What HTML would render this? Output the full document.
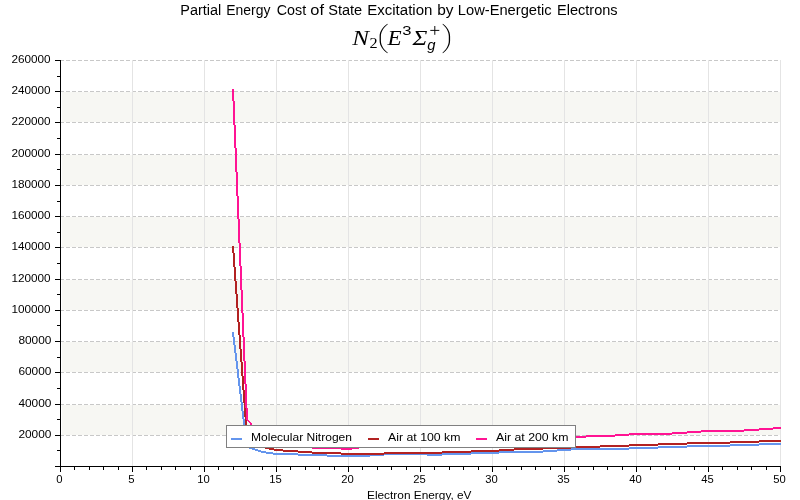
<!DOCTYPE html>
<html><head><meta charset="utf-8"><title>Partial Energy Cost of State Excitation by Low-Energetic Electrons</title>
<style>html,body{margin:0;padding:0;background:#fff;overflow:hidden}svg{display:block;will-change:transform}text{font-family:"Liberation Sans",sans-serif;fill:#000}.se{font-family:"Liberation Serif",serif}</style></head><body>
<svg width="800" height="500" viewBox="0 0 800 500">
<rect width="800" height="500" fill="#fff"/>
<g fill="#f7f7f3" shape-rendering="crispEdges">
<rect x="62" y="405" width="718" height="30"/>
<rect x="62" y="342" width="718" height="30"/>
<rect x="62" y="280" width="718" height="30"/>
<rect x="62" y="217" width="718" height="30"/>
<rect x="62" y="155" width="718" height="30"/>
<rect x="62" y="92" width="718" height="30"/>
</g>
<g stroke="#c8c8c8" stroke-width="1" stroke-dasharray="4 2" shape-rendering="crispEdges" clip-path="url(#cv)">
<line x1="60" y1="435.5" x2="780" y2="435.5"/>
<line x1="60" y1="404.5" x2="780" y2="404.5"/>
<line x1="60" y1="372.5" x2="780" y2="372.5"/>
<line x1="60" y1="341.5" x2="780" y2="341.5"/>
<line x1="60" y1="310.5" x2="780" y2="310.5"/>
<line x1="60" y1="279.5" x2="780" y2="279.5"/>
<line x1="60" y1="247.5" x2="780" y2="247.5"/>
<line x1="60" y1="216.5" x2="780" y2="216.5"/>
<line x1="60" y1="185.5" x2="780" y2="185.5"/>
<line x1="60" y1="154.5" x2="780" y2="154.5"/>
<line x1="60" y1="122.5" x2="780" y2="122.5"/>
<line x1="60" y1="91.5" x2="780" y2="91.5"/>
<line x1="60" y1="60.5" x2="780" y2="60.5"/>
</g>
<defs><clipPath id="cv"><rect x="61" y="59" width="720" height="408"/></clipPath></defs>
<g fill="#e4e4e4" shape-rendering="crispEdges">
<rect x="132" y="60" width="1" height="406"/>
<rect x="204" y="60" width="1" height="406"/>
<rect x="276" y="60" width="1" height="406"/>
<rect x="348" y="60" width="1" height="406"/>
<rect x="420" y="60" width="1" height="406"/>
<rect x="492" y="60" width="1" height="406"/>
<rect x="564" y="60" width="1" height="406"/>
<rect x="636" y="60" width="1" height="406"/>
<rect x="708" y="60" width="1" height="406"/>
<rect x="780" y="60" width="1" height="406"/>
</g>
<g shape-rendering="crispEdges" clip-path="url(#cv)">
<path fill="#6495ed" d="M232 332h2v5h-2zM233 337h2v8h-2zM234 345h2v8h-2zM235 353h2v8h-2zM236 361h2v8h-2zM237 369h2v9h-2zM238 378h2v8h-2zM239 386h2v8h-2zM240 394h2v8h-2zM241 402h2v9h-2zM242 411h2v8h-2zM243 419h2v8h-2zM244 427h2v8h-2zM245 435h2v8h-2zM246 443h2v3h-2zM246 446h3v1h-3zM246 447h6v1h-6zM249 448h6v1h-6zM252 449h6v1h-6zM255 450h6v1h-6zM258 451h8v1h-8zM261 452h12v1h-12zM266 453h32v1h-32zM273 454h54v1h-54zM298 455h86v1h-86zM327 456h43v1h-43zM370 454h101v1h-101zM384 453h43v1h-43zM427 455h15v1h-15zM442 453h57v1h-57zM471 452h72v1h-72zM499 451h58v1h-58zM543 450h28v1h-28zM557 449h72v1h-72zM571 448h87v1h-87zM629 447h58v1h-58zM658 446h72v1h-72zM687 445h72v1h-72zM730 444h51v1h-51zM759 443h22v1h-22z"/>
<path fill="#b22222" d="M232 246h2v7h-2zM233 253h2v14h-2zM234 267h2v14h-2zM235 281h2v13h-2zM236 294h2v14h-2zM237 308h2v14h-2zM238 322h2v13h-2zM239 335h2v14h-2zM240 349h2v13h-2zM241 362h2v14h-2zM242 376h2v14h-2zM243 390h2v13h-2zM244 403h2v14h-2zM245 417h2v14h-2zM246 431h2v6h-2zM246 437h4v1h-4zM248 438h3v1h-3zM250 439h3v1h-3zM251 440h3v1h-3zM253 441h3v1h-3zM254 442h3v1h-3zM256 443h3v1h-3zM257 444h3v1h-3zM259 445h3v1h-3zM260 446h5v1h-5zM262 447h7v1h-7zM265 448h9v1h-9zM269 449h14v1h-14zM274 450h24v1h-24zM283 451h29v1h-29zM298 452h43v1h-43zM312 453h130v1h-130zM341 454h43v1h-43zM384 452h87v1h-87zM442 451h57v1h-57zM471 450h43v1h-43zM499 449h44v1h-44zM514 448h57v1h-57zM543 447h57v1h-57zM571 446h58v1h-58zM600 445h58v1h-58zM629 444h58v1h-58zM658 443h72v1h-72zM687 442h72v1h-72zM730 441h51v1h-51zM759 440h22v1h-22z"/>
<path fill="#ff1493" d="M232 89h2v12h-2zM233 101h2v24h-2zM234 125h2v23h-2zM235 148h2v24h-2zM236 172h2v24h-2zM237 196h2v23h-2zM238 219h2v24h-2zM239 243h2v23h-2zM240 266h2v24h-2zM241 290h2v23h-2zM242 313h2v24h-2zM243 337h2v24h-2zM244 361h2v23h-2zM245 384h2v24h-2zM246 408h2v12h-2zM247 420h2v1h-2zM248 421h2v1h-2zM249 422h2v1h-2zM250 423h2v2h-2zM251 425h2v1h-2zM252 426h2v1h-2zM253 427h2v1h-2zM254 428h2v1h-2zM255 429h2v1h-2zM256 430h2v1h-2zM257 431h2v2h-2zM258 433h2v1h-2zM259 434h2v1h-2zM260 435h3v1h-3zM261 436h4v1h-4zM263 437h4v1h-4zM265 438h4v1h-4zM267 439h4v1h-4zM269 440h4v1h-4zM271 441h4v1h-4zM273 442h6v1h-6zM275 443h8v1h-8zM279 444h9v1h-9zM283 445h15v1h-15zM288 446h24v1h-24zM298 447h43v1h-43zM312 448h47v1h-47zM341 449h11v1h-11zM352 447h18v1h-18zM359 446h40v1h-40zM370 445h57v1h-57zM399 444h43v1h-43zM427 443h44v1h-44zM442 442h43v1h-43zM471 441h43v1h-43zM485 440h43v1h-43zM514 439h43v1h-43zM528 438h43v1h-43zM557 437h29v1h-29zM571 436h44v1h-44zM586 435h43v1h-43zM615 434h57v1h-57zM629 433h58v1h-58zM672 432h29v1h-29zM687 431h57v1h-57zM701 430h58v1h-58zM744 429h29v1h-29zM759 428h22v1h-22zM773 427h8v1h-8z"/>
</g>
<g shape-rendering="crispEdges">
<rect x="226.5" y="425.5" width="349" height="22" fill="#fff" stroke="#808080" stroke-width="1"/>
<rect x="231" y="438" width="11" height="2" fill="#6495ed"/>
<rect x="368" y="438" width="11" height="2" fill="#b22222"/>
<rect x="476" y="438" width="11" height="2" fill="#ff1493"/>
</g>
<g font-size="11">
<text x="251" y="441" textLength="101" lengthAdjust="spacingAndGlyphs">Molecular Nitrogen</text>
<text x="388" y="441" textLength="72.5" lengthAdjust="spacingAndGlyphs">Air at 100 km</text>
<text x="496" y="441" textLength="72.5" lengthAdjust="spacingAndGlyphs">Air at 200 km</text>
</g>
<g fill="#000" shape-rendering="crispEdges">
<rect x="60" y="60" width="1" height="412"/>
<rect x="55" y="466" width="726" height="1"/>
<rect x="55" y="435" width="5" height="1"/>
<rect x="55" y="404" width="5" height="1"/>
<rect x="55" y="372" width="5" height="1"/>
<rect x="55" y="341" width="5" height="1"/>
<rect x="55" y="310" width="5" height="1"/>
<rect x="55" y="279" width="5" height="1"/>
<rect x="55" y="247" width="5" height="1"/>
<rect x="55" y="216" width="5" height="1"/>
<rect x="55" y="185" width="5" height="1"/>
<rect x="55" y="154" width="5" height="1"/>
<rect x="55" y="122" width="5" height="1"/>
<rect x="55" y="91" width="5" height="1"/>
<rect x="55" y="60" width="5" height="1"/>
<rect x="57" y="450" width="3" height="1"/>
<rect x="57" y="419" width="3" height="1"/>
<rect x="57" y="388" width="3" height="1"/>
<rect x="57" y="357" width="3" height="1"/>
<rect x="57" y="325" width="3" height="1"/>
<rect x="57" y="294" width="3" height="1"/>
<rect x="57" y="263" width="3" height="1"/>
<rect x="57" y="232" width="3" height="1"/>
<rect x="57" y="201" width="3" height="1"/>
<rect x="57" y="169" width="3" height="1"/>
<rect x="57" y="138" width="3" height="1"/>
<rect x="57" y="107" width="3" height="1"/>
<rect x="57" y="76" width="3" height="1"/>
<rect x="74" y="467" width="1" height="3"/>
<rect x="89" y="467" width="1" height="3"/>
<rect x="103" y="467" width="1" height="3"/>
<rect x="118" y="467" width="1" height="3"/>
<rect x="132" y="467" width="1" height="5"/>
<rect x="146" y="467" width="1" height="3"/>
<rect x="161" y="467" width="1" height="3"/>
<rect x="175" y="467" width="1" height="3"/>
<rect x="190" y="467" width="1" height="3"/>
<rect x="204" y="467" width="1" height="5"/>
<rect x="218" y="467" width="1" height="3"/>
<rect x="233" y="467" width="1" height="3"/>
<rect x="247" y="467" width="1" height="3"/>
<rect x="262" y="467" width="1" height="3"/>
<rect x="276" y="467" width="1" height="5"/>
<rect x="290" y="467" width="1" height="3"/>
<rect x="305" y="467" width="1" height="3"/>
<rect x="319" y="467" width="1" height="3"/>
<rect x="334" y="467" width="1" height="3"/>
<rect x="348" y="467" width="1" height="5"/>
<rect x="362" y="467" width="1" height="3"/>
<rect x="377" y="467" width="1" height="3"/>
<rect x="391" y="467" width="1" height="3"/>
<rect x="406" y="467" width="1" height="3"/>
<rect x="420" y="467" width="1" height="5"/>
<rect x="434" y="467" width="1" height="3"/>
<rect x="449" y="467" width="1" height="3"/>
<rect x="463" y="467" width="1" height="3"/>
<rect x="478" y="467" width="1" height="3"/>
<rect x="492" y="467" width="1" height="5"/>
<rect x="506" y="467" width="1" height="3"/>
<rect x="521" y="467" width="1" height="3"/>
<rect x="535" y="467" width="1" height="3"/>
<rect x="550" y="467" width="1" height="3"/>
<rect x="564" y="467" width="1" height="5"/>
<rect x="578" y="467" width="1" height="3"/>
<rect x="593" y="467" width="1" height="3"/>
<rect x="607" y="467" width="1" height="3"/>
<rect x="622" y="467" width="1" height="3"/>
<rect x="636" y="467" width="1" height="5"/>
<rect x="650" y="467" width="1" height="3"/>
<rect x="665" y="467" width="1" height="3"/>
<rect x="679" y="467" width="1" height="3"/>
<rect x="694" y="467" width="1" height="3"/>
<rect x="708" y="467" width="1" height="5"/>
<rect x="722" y="467" width="1" height="3"/>
<rect x="737" y="467" width="1" height="3"/>
<rect x="751" y="467" width="1" height="3"/>
<rect x="766" y="467" width="1" height="3"/>
<rect x="780" y="467" width="1" height="5"/>
</g>
<g font-size="11" text-anchor="end">
<text x="51.4" y="438.2" textLength="33.0" lengthAdjust="spacingAndGlyphs">20000</text>
<text x="51.4" y="407.2" textLength="33.0" lengthAdjust="spacingAndGlyphs">40000</text>
<text x="51.4" y="375.2" textLength="33.0" lengthAdjust="spacingAndGlyphs">60000</text>
<text x="51.4" y="344.2" textLength="33.0" lengthAdjust="spacingAndGlyphs">80000</text>
<text x="50.6" y="313.2" textLength="39.2" lengthAdjust="spacingAndGlyphs">100000</text>
<text x="50.6" y="282.2" textLength="39.2" lengthAdjust="spacingAndGlyphs">120000</text>
<text x="50.6" y="250.2" textLength="39.2" lengthAdjust="spacingAndGlyphs">140000</text>
<text x="50.6" y="219.2" textLength="39.2" lengthAdjust="spacingAndGlyphs">160000</text>
<text x="50.6" y="188.2" textLength="39.2" lengthAdjust="spacingAndGlyphs">180000</text>
<text x="50.6" y="157.2" textLength="39.2" lengthAdjust="spacingAndGlyphs">200000</text>
<text x="50.6" y="125.2" textLength="39.2" lengthAdjust="spacingAndGlyphs">220000</text>
<text x="50.6" y="94.2" textLength="39.2" lengthAdjust="spacingAndGlyphs">240000</text>
<text x="50.6" y="63.2" textLength="39.2" lengthAdjust="spacingAndGlyphs">260000</text>
</g>
<g font-size="11" text-anchor="middle">
<text x="59.5" y="483.2" textLength="6.3" lengthAdjust="spacingAndGlyphs">0</text>
<text x="131.5" y="483.2" textLength="6.3" lengthAdjust="spacingAndGlyphs">5</text>
<text x="203.5" y="483.2" textLength="12.5" lengthAdjust="spacingAndGlyphs">10</text>
<text x="275.5" y="483.2" textLength="12.5" lengthAdjust="spacingAndGlyphs">15</text>
<text x="347.5" y="483.2" textLength="12.5" lengthAdjust="spacingAndGlyphs">20</text>
<text x="419.5" y="483.2" textLength="12.5" lengthAdjust="spacingAndGlyphs">25</text>
<text x="491.5" y="483.2" textLength="12.5" lengthAdjust="spacingAndGlyphs">30</text>
<text x="563.5" y="483.2" textLength="12.5" lengthAdjust="spacingAndGlyphs">35</text>
<text x="635.5" y="483.2" textLength="12.5" lengthAdjust="spacingAndGlyphs">40</text>
<text x="707.5" y="483.2" textLength="12.5" lengthAdjust="spacingAndGlyphs">45</text>
<text x="779.5" y="483.2" textLength="12.5" lengthAdjust="spacingAndGlyphs">50</text>
</g>
<text x="367" y="499" font-size="11" textLength="104.5" lengthAdjust="spacingAndGlyphs">Electron Energy, eV</text>
<g font-size="14">
<text x="180.3" y="15" textLength="41.0" lengthAdjust="spacingAndGlyphs">Partial</text>
<text x="226.3" y="15" textLength="44.1" lengthAdjust="spacingAndGlyphs">Energy</text>
<text x="276.8" y="15" textLength="29.4" lengthAdjust="spacingAndGlyphs">Cost</text>
<text x="310.3" y="15" textLength="13.7" lengthAdjust="spacingAndGlyphs">of</text>
<text x="328.2" y="15" textLength="34.0" lengthAdjust="spacingAndGlyphs">State</text>
<text x="367.2" y="15" textLength="65.2" lengthAdjust="spacingAndGlyphs">Excitation</text>
<text x="437.2" y="15" textLength="16.3" lengthAdjust="spacingAndGlyphs">by</text>
<text x="457.8" y="15" textLength="93.9" lengthAdjust="spacingAndGlyphs">Low-Energetic</text>
<text x="557.0" y="15" textLength="60.6" lengthAdjust="spacingAndGlyphs">Electrons</text>
</g>
<g>
<text class="se" font-style="italic" font-size="20" transform="translate(352.13 44.80) scale(1.259 1.077)">N</text>
<text class="se" font-size="20" transform="translate(369.57 48.00) scale(0.812 0.682)">2</text>
<text class="se" font-style="italic" font-size="20" transform="translate(387.43 44.80) scale(1.157 1.069)">E</text>
<text font-size="20" transform="translate(402.34 34.66) scale(0.830 0.676)">3</text>
<text class="se" font-style="italic" font-size="20" transform="translate(412.40 44.80) scale(1.252 1.038)">&#931;</text>
<text font-style="italic" font-size="20" transform="translate(427.13 50.18) scale(0.741 0.720)">g</text>
<path d="M387.4 23.7C383 26.8 379.6 31.2 379.6 36.2V40.8C379.6 45.8 383 50.2 387.4 53.3L387.8 52.8C384 49.8 380.9 45.6 380.9 40.8V36.2C380.9 31.4 384 27.2 387.8 24.2Z" fill="#000"/>
<path d="M430.3 30.4h9M434.8 26v8.8" fill="none" stroke="#000" stroke-width="0.95"/>
<path d="M442.9 23.7C447 26.8 450.1 31.2 450.1 36.2V40.8C450.1 45.8 447 50.2 442.9 53.3L442.5 52.8C446 49.8 448.8 45.6 448.8 40.8V36.2C448.8 31.4 446 27.2 442.5 24.2Z" fill="#000"/>
</g>
</svg></body></html>
